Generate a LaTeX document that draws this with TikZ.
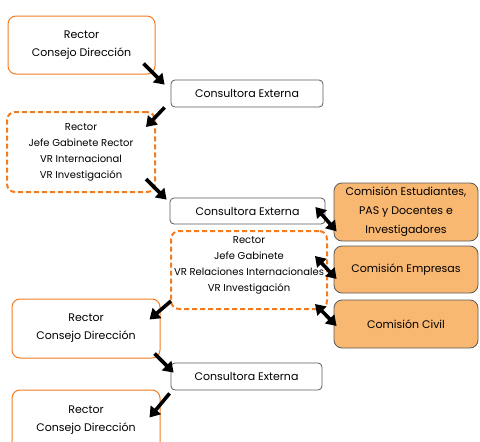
\documentclass[tikz,border=0pt]{standalone}
\usepackage{fontspec}
\setmainfont{Poppins}
\usetikzlibrary{arrows.meta,calc}
\definecolor{borange}{HTML}{F47B20}
\definecolor{forange}{HTML}{F9B872}
\definecolor{bgray}{HTML}{5A5A5A}
\tikzset{
  solidbox/.style={draw=borange,line width=1pt,rounded corners=8pt,align=center,inner sep=0pt,font=\fontsize{11}{18}\selectfont},
  dashbox/.style={draw=borange,line width=2pt,dashed,dash pattern=on 5pt off 3pt,rounded corners=8pt,align=center,inner sep=0pt},
  dashtext/.style={align=center,inner sep=0pt,font=\fontsize{10}{16}\selectfont},
  consbox/.style={draw=bgray,line width=0.8pt,rounded corners=4pt,align=center,inner sep=0pt,font=\fontsize{11}{12}\selectfont},
  combox/.style={draw=bgray,fill=forange,line width=0.8pt,rounded corners=8pt,align=center,inner sep=0pt,font=\fontsize{11}{19}\selectfont},
  arr/.style={line width=3.6pt,-{Triangle[length=10pt,width=13pt]}},
  darr/.style={line width=3.6pt,{Triangle[length=10pt,width=12.5pt]}-{Triangle[length=10pt,width=12.5pt]}}
}
\begin{document}
\begin{tikzpicture}[x=1pt,y=-1pt]
\useasboundingbox (0,0) rectangle (480,442);
\node[solidbox,minimum width=147pt,minimum height=58pt] (b1) at (81.5,45) {Rector\\Consejo Dirección};
\node[consbox,minimum width=152pt,minimum height=27pt] (b2) at (247,93.5) {Consultora Externa};
\node[dashbox,minimum width=148pt,minimum height=80pt] (b3) at (81,152) {};
\node[dashtext] (b3t) at (b3.center) {Rector\\Jefe Gabinete Rector\\VR Internacional\\VR Investigación};
\node[consbox,minimum width=155pt,minimum height=26pt] (b4) at (247.5,211) {Consultora Externa};
\node[dashbox,minimum width=156pt,minimum height=78pt] (b5) at (249,270) {};
\node[dashtext] (b5t) at ($(b5.center)+(0,-4.5)$) {Rector\\Jefe Gabinete\\VR Relaciones Internacionales\\VR Investigación};
\node[combox,minimum width=144pt,minimum height=58pt] (c1) at (406,212) {Comisión Estudiantes,\\PAS y Docentes e\\Investigadores};
\node[combox,minimum width=144pt,minimum height=47pt] (c2) at (406,269.5) {Comisión Empresas};
\node[combox,minimum width=144pt,minimum height=48pt] (c3) at (406,324) {Comisión Civil};
\node[solidbox,minimum width=148pt,minimum height=59pt] (b6) at (86,328.5) {Rector\\Consejo Dirección};
\node[consbox,minimum width=151pt,minimum height=27pt] (b7) at (246.5,376.5) {Consultora Externa};
\node[solidbox,minimum width=148pt,minimum height=60pt] (b8) at (86,420) {Rector\\Consejo Dirección};
\draw[arr] ($(b1.south east)+(-12,-11)$) -- ($(b2.north west)+(-6,5)$);
\draw[arr] ($(b2.south west)+(-6,0)$) -- ($(b3.north east)+(-10,16)$);
\draw[arr] ($(b3.south east)+(-10,-14)$) -- ($(b4.north west)+(-3,2)$);
\draw[darr] ($(b4.east)+(-10,-4)$) -- ($(c1.south west)+(3,-10)$);
\draw[darr] ($(b5.east)+(-13,-14)$) -- ($(c2.west)+(3,9.5)$);
\draw[darr] ($(b5.south east)+(-13,-6)$) -- ($(c3.west)+(3,2)$);
\draw[arr] ($(b5.south west)+(1,-9)$) -- ($(b6.north east)+(-11,21)$);
\draw[arr] ($(b6.south east)+(-6,-5)$) -- ($(b7.north west)+(3,10)$);
\draw[arr] ($(b7.south west)+(-1,3)$) -- ($(b8.north east)+(-11,28)$);
\end{tikzpicture}
\end{document}
